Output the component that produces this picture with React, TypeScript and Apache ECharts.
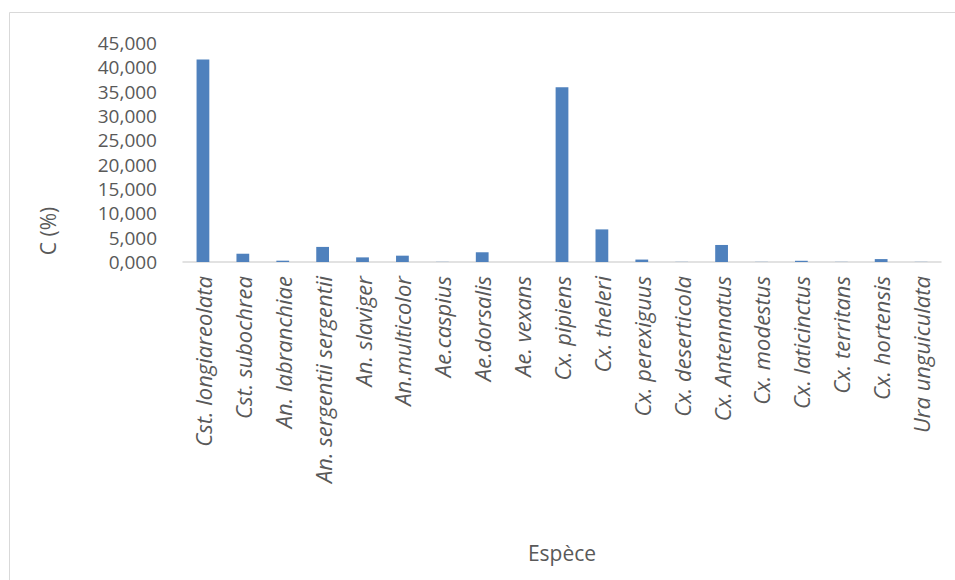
import React, { useEffect, useRef } from "react";
import * as echarts from "echarts";

const categories = [
  "Cst. longiareolata",
  "Cst. subochrea",
  "An. labranchiae",
  "An. sergentii sergentii",
  "An. slaviger",
  "An.multicolor",
  "Ae.caspius",
  "Ae.dorsalis",
  "Ae. vexans",
  "Cx. pipiens",
  "Cx. theleri",
  "Cx. perexiguus",
  "Cx. deserticola",
  "Cx. Antennatus",
  "Cx. modestus",
  "Cx. laticinctus",
  "Cx. territans",
  "Cx. hortensis",
  "Ura unguiculata",
];

const values = [
  41.6, 1.7, 0.27, 3.1, 0.95, 1.3, 0.03, 2.0, 0, 35.9, 6.7, 0.5, 0.03, 3.5, 0.03, 0.25,
  0.03, 0.6, 0.03,
];

const yTicks = { min: 0, max: 45, interval: 5 };

export default function App() {
  const ref = useRef<HTMLDivElement>(null);
  useEffect(() => {
    if (!ref.current) return;
    const chart = echarts.init(ref.current, undefined, { renderer: "svg" });
    const font = "'Open Sans', 'Liberation Sans', sans-serif";
    chart.setOption({
      animation: false,
      backgroundColor: "#ffffff",
      grid: { left: 183, right: 14, top: 43, bottom: 318, containLabel: false },
      xAxis: {
        type: "category",
        data: categories,
        axisLine: { lineStyle: { color: "#d9d9d9", width: 1.5 } },
        axisTick: { show: false },
        axisLabel: {
          rotate: 90,
          interval: 0,
          margin: 14,
          fontFamily: font,
          fontSize: 22,
          fontStyle: "italic",
          color: "#595959",
        },
        name: "Espèce",
        nameLocation: "middle",
        nameGap: 280,
        nameTextStyle: { fontFamily: font, fontSize: 21, color: "#595959" },
      },
      yAxis: {
        type: "value",
        min: yTicks.min,
        max: yTicks.max,
        interval: yTicks.interval,
        splitLine: { show: false },
        axisLine: { show: false },
        axisTick: { show: false },
        axisLabel: {
          margin: 26,
          fontFamily: font,
          fontSize: 19,
          lineHeight: 19,
          color: "#595959",
          formatter: (v: number) => v.toFixed(3).replace(".", ","),
        },
      },
      series: [
        {
          type: "bar",
          data: values,
          barWidth: "32%",
          itemStyle: { color: "#4f81bd" },
        },
      ],
      graphic: [
        {
          type: "rect",
          shape: { x: 9.5, y: 12.5, width: 1000, height: 700 },
          style: { fill: "none", stroke: "#d9d9d9", lineWidth: 1 },
          silent: true,
        },
        {
          type: "text",
          x: 48,
          y: 231,
          rotation: Math.PI / 2,
          style: {
            text: "C (%)",
            fontFamily: font,
            fontSize: 21,
            fill: "#595959",
            align: "center",
            verticalAlign: "middle",
          },
        },
      ],
    });
    return () => chart.dispose();
  }, []);
  return (
    <div
      ref={ref}
      style={{ position: "fixed", left: 0, top: 0, width: 955, height: 580 }}
    />
  );
}
